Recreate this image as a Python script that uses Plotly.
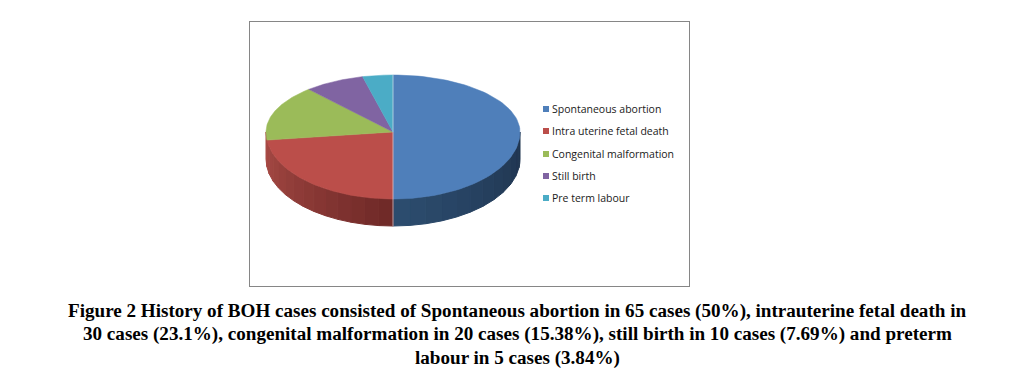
import numpy as np
import plotly.graph_objects as go

categories = ["Spontaneous abortion", "Intra uterine fetal death", "Congenital malformation", "Still birth", "Pre term labour"]
values = [65, 30, 20, 10, 5]
colors = ["#4f7fba", "#bb4e4a", "#9bbb59", "#8064a2", "#4bacc6"]
caption_lines = [
    "Figure 2 History of BOH cases consisted of Spontaneous abortion in 65 cases (50%), intrauterine fetal death in",
    "30 cases (23.1%), congenital malformation in 20 cases (15.38%), still birth in 10 cases (7.69%) and preterm",
    "labour in 5 cases (3.84%)",
]
caption_y = [311, 334, 358]
legend_y = [109, 131, 154, 176, 198]

W, H = 1027, 372
L, R, T, B = 250, 689, 22, 286
CX, CY, RX, RY_TOP, RY_BOT, DEPTH = 393, 132, 127, 57, 67, 27


def rim(theta_deg):
    t = np.radians(theta_deg)
    c = np.cos(t)
    return CX + RX * np.sin(t), CY - np.where(c > 0, RY_TOP, RY_BOT) * c


def mix(a, b, f):
    return "rgb(%d,%d,%d)" % tuple(round(a[i] + (b[i] - a[i]) * f) for i in range(3))


fig = go.Figure()


def add_wall(start, end, bands, c0, c1):
    edges = np.linspace(start, end, bands + 1)
    for i in range(bands):
        th = np.linspace(edges[i], edges[i + 1], 6)
        x, y = rim(th)
        col = mix(c0, c1, i / max(bands - 1, 1))
        fig.add_trace(go.Scatter(
            x=np.r_[x, x[::-1], x[0]], y=np.r_[y, y[::-1] + DEPTH, y[0]],
            mode="lines", fill="toself", fillcolor=col, line=dict(color=col, width=1),
            showlegend=False, hoverinfo="skip"))


add_wall(90, 180, 12, (0x1f, 0x34, 0x4f), (0x2c, 0x4c, 0x6e))
add_wall(180, 270, 14, (0x70, 0x2a, 0x28), (0xa8, 0x4a, 0x45))

total = sum(values)
cum = np.cumsum([0] + values) / total * 360
for i, name in enumerate(categories):
    th = np.linspace(cum[i], cum[i + 1], 80)
    x, y = rim(th)
    fig.add_trace(go.Scatter(
        x=np.r_[CX, x, CX], y=np.r_[CY, y, CY], mode="lines", fill="toself",
        fillcolor=colors[i], line=dict(color=colors[i], width=0.5),
        name=name, showlegend=False, hoverinfo="name"))

# pale seam between the first and last slices
fig.add_trace(go.Scatter(x=[CX, CX], y=[CY - RY_TOP, CY + RY_BOT + DEPTH], mode="lines",
                         line=dict(color="rgba(225,225,235,0.65)", width=1),
                         showlegend=False, hoverinfo="skip"))

# legend entries: swatch and label share one trace per category
for i, name in enumerate(categories):
    fig.add_trace(go.Scatter(x=[546], y=[legend_y[i]], mode="markers", name=name,
                             marker=dict(symbol="square", size=6, color=colors[i]),
                             showlegend=False, hoverinfo="name"))
    fig.add_annotation(text=name, x=552, y=legend_y[i], xref="x", yref="y", showarrow=False,
                       xanchor="left", yanchor="middle", xshift=-2,
                       font=dict(family="Open Sans", size=10.5, color="#1a1a1a"))

for line, y in zip(caption_lines, caption_y):
    fig.add_annotation(text="<b>%s</b>" % line, xref="paper", yref="paper",
                       x=(517 - L) / (R - L), y=(B - y) / (B - T), showarrow=False,
                       xanchor="center", yanchor="middle",
                       font=dict(family="Liberation Serif", size=19.1, color="#000000"))

fig.update_layout(
    width=W, height=H, autosize=False,
    margin=dict(l=L, r=W - R, t=T, b=H - B, pad=0),
    paper_bgcolor="white", plot_bgcolor="white",
    showlegend=False,
    xaxis=dict(range=[L, R], visible=True, showticklabels=False, ticks="", showgrid=False, zeroline=False,
               showline=True, mirror=True, linecolor="#868686", linewidth=1, fixedrange=True),
    yaxis=dict(range=[B, T], visible=True, showticklabels=False, ticks="", showgrid=False, zeroline=False,
               showline=True, mirror=True, linecolor="#868686", linewidth=1, fixedrange=True),
    hovermode="closest",
)
fig.write_html("out.html", config={"displayModeBar": False},
               post_script="document.body.style.margin='0';document.body.style.overflow='hidden';")
